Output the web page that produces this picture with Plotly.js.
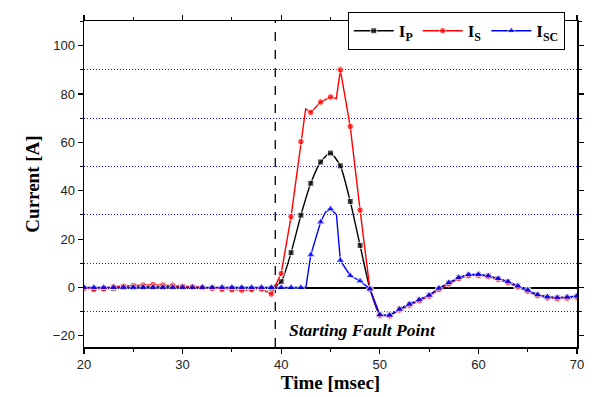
<!DOCTYPE html>
<html>
<head>
<meta charset="utf-8">
<script src="https://cdn.plot.ly/plotly-3.0.1.min.js"></script>
<style>html,body{margin:0;padding:0;background:#fff;}#chart{width:596px;height:397px;}</style>
</head>
<body>
<div id="chart"></div>
<script>
// ---- data (time in msec, current in A) ----
const tP = [20,21,22,23,24,25,26,27,28,29,30,31,32,33,34,35,36,37,38,39,40,41,42,43,44,45,46,47,48,49,50,51,52,53,54,55,56,57,58,59,60,61,62,63,64,65,66,67,68,69,70];
const iP = [-0.2,-0.4,-0.5,-0.3,0,0.1,0.2,0.3,0.2,0.2,0.1,0,0,-0.1,-0.2,-0.3,-0.4,-0.4,-0.3,-0.3,2.4,14.4,29.9,43.1,51.9,55.6,50.3,35.6,17.4,-0.5,-11.2,-11.4,-8.9,-6.9,-5.1,-3.2,-0.4,1.9,4.0,5.2,5.3,4.8,3.7,2.4,0.6,-1.1,-3.0,-3.9,-4.2,-4.0,-3.6];

const tS = [20,21,22,23,24,25,26,27,28,29,30,31,32,33,34,35,36,37,38,39,40,41,42,42.48,43,44,45,45.59,46,47,48,49,50,51,52,53,54,55,56,57,58,59,60,61,62,63,64,65,66,67,68,69,70];
const iS = [-0.3,-0.8,-0.5,0.3,0.6,0.8,1.0,1.2,1.0,0.9,0.5,0.3,0,-0.4,-0.8,-1.0,-1.1,-0.9,-0.6,-2.7,5.8,29.3,60.3,73.8,72.4,76.7,78.8,78.1,90.0,66.6,32.0,-0.8,-11.6,-11.8,-9.3,-7.3,-5.5,-3.6,-0.8,1.5,3.7,4.9,5.0,4.5,3.3,2.0,0.2,-1.5,-3.4,-4.3,-4.6,-4.4,-4.0];

const tSC = [20,21,22,23,24,25,26,27,28,29,30,31,32,33,34,35,36,37,38,39,40,41,42,42.5,43,44,44.5,45,45.6,46,47,48,49,50,51,52,53,54,55,56,57,58,59,60,61,62,63,64,65,66,67,68,69,70];
const iSC = [0,0,0,0,0,0,0,0,0,0,0,0,0,0,0,0,0,0,0,0,0,0,0,0,13.5,27.1,31.2,32.5,30.2,11.2,4.9,2.7,-0.6,-11.3,-11.5,-9.0,-6.9,-5.1,-3.2,-0.3,2.0,4.1,5.3,5.4,4.8,3.7,2.4,0.6,-1.1,-3.0,-3.9,-4.2,-4.0,-3.5];

const seriesNames = ['I<sub>P</sub>', 'I<sub>S</sub>', 'I<sub>SC</sub>'];
const faultTime = 39.4;
const faultLabel = 'Starting Fault Point';
const xTitle = 'Time [msec]';
const yTitle = 'Current [A]';

// markers only on whole-millisecond samples
function sizes(t, s) { return t.map(v => Number.isInteger(v) ? s : 0); }

const traces = [
  {x: tP, y: iP, name: seriesNames[0], mode: 'lines+markers',
   line: {color: '#000000', width: 1.4, shape: 'spline', smoothing: 0.6},
   marker: {symbol: 'square', color: '#000000', size: sizes(tP, 6)}},
  {x: tS, y: iS, name: seriesNames[1], mode: 'lines+markers',
   line: {color: '#ff0000', width: 1.4},
   marker: {symbol: 'circle', color: '#ff0000', size: sizes(tS, 6.5)}},
  {x: tSC, y: iSC, name: seriesNames[2], mode: 'lines+markers',
   line: {color: '#0000ff', width: 1.4},
   marker: {symbol: 'triangle-up', color: '#0000ff', size: sizes(tSC, 8)}}
];

const serif = 'Liberation Serif, Times New Roman, serif';
const sans = 'Liberation Sans, Arial, sans-serif';

const layout = {
  width: 596, height: 397,
  margin: {l: 84, r: 19, t: 15, b: 50},
  paper_bgcolor: '#ffffff', plot_bgcolor: '#ffffff',
  showlegend: true,
  legend: {orientation: 'h', x: 0.535, y: 1.027, xanchor: 'left', yanchor: 'top',
    bgcolor: '#ffffff', bordercolor: '#000000', borderwidth: 1,
    font: {family: serif, size: 17, color: '#000', weight: 'bold'},
    itemwidth: 40, tracegroupgap: 0},
  xaxis: {
    range: [20, 70], dtick: 10, tick0: 0,
    showgrid: false, zeroline: false,
    showline: true, linecolor: '#000', linewidth: 1.5, mirror: 'ticks',
    ticks: 'outside', ticklen: 5, tickwidth: 1.2, tickcolor: '#000',
    minor: {dtick: 5, ticks: 'outside', ticklen: 3, tickcolor: '#000', tickwidth: 1, showgrid: false},
    tickfont: {family: sans, size: 13, color: '#222'},
    title: {text: xTitle, font: {family: serif, size: 19, color: '#000', weight: 'bold'}, standoff: 2}
  },
  yaxis: {
    range: [-24.6, 110.2], dtick: 20, tick0: 0,
    showgrid: false,
    zeroline: true, zerolinecolor: '#000', zerolinewidth: 2,
    showline: true, linecolor: '#000', linewidth: 1.5, mirror: 'ticks',
    ticks: 'outside', ticklen: 5, tickwidth: 1.2, tickcolor: '#000',
    minor: {dtick: 10, tick0: 0, ticks: 'outside', ticklen: 3, tickcolor: '#000', tickwidth: 1,
      showgrid: true, gridcolor: '#1a1aff', griddash: '1px,2px', gridwidth: 1},
    tickfont: {family: sans, size: 13, color: '#222'},
    title: {text: yTitle, font: {family: serif, size: 19, color: '#000', weight: 'bold'}, standoff: 8}
  },
  shapes: [{type: 'line', xref: 'x', yref: 'paper', x0: faultTime, x1: faultTime, y0: 0, y1: 1,
    line: {color: '#000', width: 1.3, dash: 'dash'}, layer: 'below'}],
  annotations: [{xref: 'x', yref: 'y', x: 40.6, y: -17.7, xanchor: 'left', yanchor: 'middle',
    text: '<i><b>' + faultLabel + '</b></i>', showarrow: false,
    font: {family: serif, size: 17.5, color: '#000'}}]
};

Plotly.newPlot('chart', traces, layout, {displayModeBar: false, staticPlot: true});
</script>
</body>
</html>
